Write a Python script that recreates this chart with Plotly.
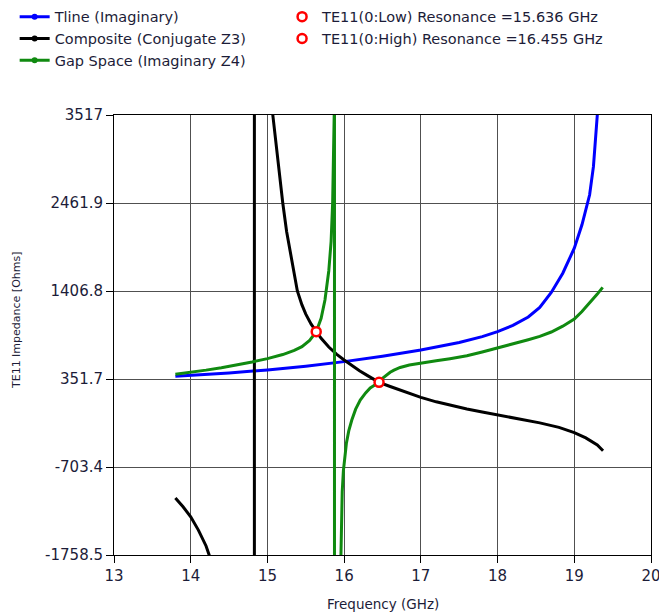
import plotly.graph_objects as go

# ---- data ----
tline_f = [13.8, 14.0, 14.5, 15.0, 15.5, 16.0, 16.5, 17.0, 17.5, 17.8, 18.0, 18.2, 18.4, 18.55, 18.7, 18.85, 19.0, 19.1, 19.2, 19.25, 19.3, 19.35]
tline_z = [385, 395, 425, 460, 505, 560, 625, 700, 790, 860, 920, 995, 1095, 1210, 1390, 1620, 1920, 2200, 2560, 2900, 3517, 4500]

comp_f = [13.8, 13.9, 14.0, 14.1, 14.2, 14.24, 14.4, 14.6, 14.75, 14.83, 14.83,
          14.95, 15.07, 15.12, 15.16, 15.2, 15.25, 15.3, 15.35, 15.39, 15.45, 15.5, 15.57, 15.636,
          15.7, 15.8, 15.9, 16.0, 16.1, 16.2, 16.3, 16.455, 16.6, 16.73, 16.9, 17.0, 17.2, 17.4,
          17.6, 17.8, 18.0, 18.3, 18.55, 18.8, 19.0, 19.15, 19.3, 19.375]
comp_z = [-1075, -1180, -1300, -1460, -1650, -1758, -2400, -3800, -8000, -40000, 40000,
          7000, 3517, 3080, 2750, 2462, 2120, 1850, 1610, 1407, 1240, 1130, 1010, 919,
          840, 735, 650, 580, 510, 450, 395, 312, 262, 220, 165, 132, 78, 32,
          -8, -44, -78, -128, -174, -228, -290, -355, -440, -508]

gap_f = [13.8, 14.0, 14.2, 14.4, 14.6, 14.8, 15.0, 15.2, 15.35, 15.45, 15.55, 15.636, 15.7, 15.75,
         15.8, 15.83, 15.85, 15.865, 15.872, 15.874, 15.874,
         15.92, 15.955, 15.965, 15.975, 15.99, 16.01, 16.03, 16.06, 16.1, 16.15, 16.21, 16.28,
         16.34, 16.4, 16.455, 16.5, 16.55, 16.6, 16.65, 16.73, 16.85, 17.0, 17.2, 17.38, 17.6,
         17.8, 18.0, 18.2, 18.4, 18.55, 18.7, 18.85, 19.0, 19.1, 19.2, 19.3, 19.37]
gap_z = [410, 432, 458, 487, 520, 556, 596, 645, 695, 740, 815, 919, 1080, 1299,
         1650, 2000, 2462, 3000, 3600, 40000, -40000,
         -3500, -1758, -1300, -1000, -750, -560, -415, -270, -140, -10, 100, 185,
         244, 280, 308, 360, 400, 432, 458, 490, 520, 545, 570, 595, 630,
         675, 722, 772, 822, 862, 915, 985, 1071, 1160, 1262, 1370, 1451]

res_low_f, res_low_z = [15.636], [919]
res_high_f, res_high_z = [16.455], [312]

y_ticks = [-1758.5, -703.4, 351.7, 1406.8, 2461.9, 3517]
y_tick_text = ["-1758.5", "-703.4", "351.7", "1406.8", "2461.9", "3517"]
x_ticks = [13, 14, 15, 16, 17, 18, 19, 20]

BLUE, BLACK, GREEN, RED = "#0000FF", "#000000", "#108A10", "#FF0000"
FONT = "DejaVu Sans, Verdana, sans-serif"
TXT = "#1c1c38"

fig = go.Figure()

series = [
    ("Tline (Imaginary)", tline_f, tline_z, BLUE),
    ("Composite (Conjugate Z3)", comp_f, comp_z, BLACK),
    ("Gap Space (Imaginary Z4)", gap_f, gap_z, GREEN),
]
for name, f, z, c in series:
    fig.add_trace(go.Scatter(x=f, y=z, mode="lines", line=dict(color=c, width=3),
                             showlegend=False, hoverinfo="skip"))
for name, f, z, c in series:
    fig.add_trace(go.Scatter(x=[None], y=[None], mode="lines+markers", name=name,
                             line=dict(color=c, width=3), marker=dict(color=c, size=6),
                             legend="legend", hoverinfo="skip"))

for name, f, z in [("TE11(0:Low) Resonance =15.636 GHz", res_low_f, res_low_z),
                   ("TE11(0:High) Resonance =16.455 GHz", res_high_f, res_high_z)]:
    fig.add_trace(go.Scatter(x=f, y=z, mode="markers", name=name, legend="legend2",
                             marker=dict(symbol="circle", size=9, color="white",
                                         line=dict(color=RED, width=2.5))))

axis_common = dict(showline=True, mirror=True, linecolor="black", linewidth=1,
                   showgrid=True, gridcolor="#505050", gridwidth=1, zeroline=False,
                   ticks="outside", ticklen=7, tickcolor="black",
                   ticklabeloverflow="allow",
                   tickfont=dict(family=FONT, size=15, color=TXT))

fig.update_layout(
    width=659, height=616,
    margin=dict(l=114, r=8, t=115, b=61, autoexpand=False),
    paper_bgcolor="white", plot_bgcolor="white",
    font=dict(family=FONT, color=TXT),
    xaxis=dict(range=[13, 20], tickvals=x_ticks, **axis_common),
    yaxis=dict(range=[-1758.5, 3517], tickvals=y_ticks, ticktext=y_tick_text, **axis_common),
    legend=dict(x=-0.185, y=1.2597, xanchor="left", yanchor="top",
                font=dict(family=FONT, size=14.5, color=TXT), bgcolor="rgba(0,0,0,0)",
                tracegroupgap=0, itemwidth=30),
    legend2=dict(x=0.313, y=1.2597, xanchor="left", yanchor="top",
                 font=dict(family=FONT, size=14.5, color=TXT), bgcolor="rgba(0,0,0,0)",
                 tracegroupgap=0, itemwidth=30),
    annotations=[
        dict(text="Frequency (GHz)", xref="paper", yref="paper", x=0.5, y=0, yshift=-49,
             xanchor="center", yanchor="middle", showarrow=False,
             font=dict(family=FONT, size=13.5, color=TXT)),
        dict(text="TE11 Impedance [Ohms]", xref="paper", yref="paper", x=0, xshift=-98,
             y=0.534, xanchor="center", yanchor="middle", textangle=-90, showarrow=False,
             font=dict(family=FONT, size=11, color=TXT)),
    ],
)

fig.write_html("out.html")
